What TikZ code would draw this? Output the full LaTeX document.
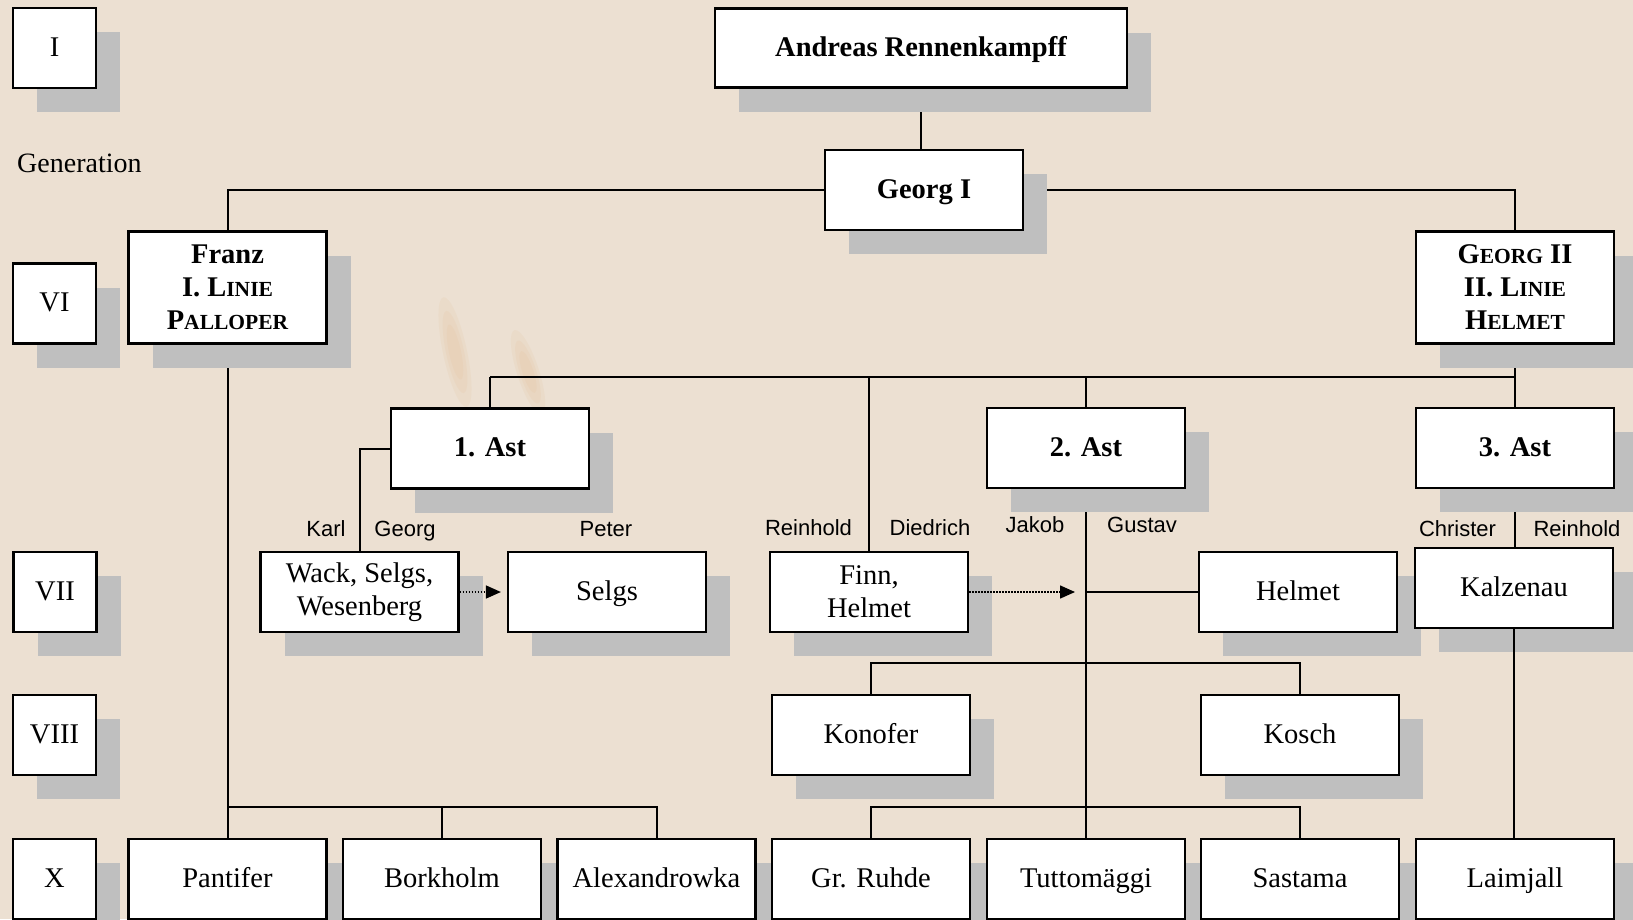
\documentclass[tikz,border=0pt]{standalone}
\usepackage{fontspec}
\setmainfont{Liberation Serif}
\setsansfont{Liberation Sans}
\usetikzlibrary{arrows.meta}
\usetikzlibrary{shadows}
\definecolor{paper}{RGB}{236,224,210}
\definecolor{stain}{RGB}{226,184,138}
\definecolor{shadowgrey}{RGB}{191,191,191}
\newcommand\boxfont{\fontsize{28.5}{33}\selectfont}
\newcommand\givenfont{\sffamily\fontsize{22}{26}\selectfont}
\newcommand\smallcap[1]{{\fontsize{21.5}{33}\selectfont #1}}
\pgfdeclarelayer{paperlayer}
\pgfdeclarelayer{wires}
\pgfsetlayers{paperlayer,wires,main}

\begin{document}
\begin{tikzpicture}[
    x=1pt, y=-1pt,
    frame/.style={
        draw=black,
        line width=2.2pt,
        fill=white,
        inner sep=0pt,
        minimum width=198pt,
        minimum height=80pt,
        align=center,
        font=\boxfont,
        drop shadow={shadow xshift=24pt, shadow yshift=-24pt,
                     fill=shadowgrey, opacity=1}
    },
    box/.style={frame, text height=17pt, text depth=1pt},
    gen/.style={box, minimum width=83pt},
    line/.style={frame, minimum height=112pt, font=\boxfont\bfseries},
    given/.style={anchor=base, inner sep=0pt, font=\givenfont},
    wire/.style={draw=black, line width=2pt},
    hint/.style={draw=black, line width=1.5pt, dash pattern=on 1.5pt off 1.5pt,
                 -{Triangle[length=15pt,width=13pt]}}
]

\useasboundingbox (0,0) rectangle (1633,919);
\begin{pgfonlayer}{paperlayer}
\fill [paper] (0,0) rectangle (1633,919);
\foreach \r in {1,0.75,0.5} {
    \fill [stain, opacity=0.12, rotate around={12:(455,352)}] (455,352) ellipse ({12*\r} and {56*\r});
    \fill [stain, opacity=0.12, rotate around={18:(528,372)}] (528,372) ellipse ({11*\r} and {44*\r});
}
\end{pgfonlayer}

% generations
\node [gen] (genI)    at (54.5,  48) {I};
\node [gen] (genVI)   at (54.5, 303.5) {VI};
\node [gen] (genVII)  at (55,   592) {VII};
\node [gen] (genVIII) at (54.5, 735) {VIII};
\node [gen] (genX)    at (54.5, 879) {X};
\node [anchor=base west, inner sep=0pt, font=\fontsize{28}{33}\selectfont]
    (generation) at (17,172) {Generation};

% stem
\node [box, minimum width=412pt, minimum height=79pt, font=\boxfont\bfseries]
    (andreas) at (921, 48) {Andreas Rennenkampff};
\node [box, font=\boxfont\bfseries] (georgI) at (924, 190) {Georg I};

\node [line] (franz)   at (227.5, 287.5) {Franz\\I. L\smallcap{INIE}\\P\smallcap{ALLOPER}};
\node [line] (georgII) at (1515,  287.5) {G\smallcap{EORG} II\\II. L\smallcap{INIE}\\H\smallcap{ELMET}};

\node [box, font=\boxfont\bfseries] (ast1) at (490,  448.5) {1. Ast};
\node [box, font=\boxfont\bfseries] (ast2) at (1086, 448) {2. Ast};
\node [box, font=\boxfont\bfseries] (ast3) at (1515, 448) {3. Ast};

% estates
\node [frame] (wack)     at (359.5, 592) {Wack, Selgs,\\Wesenberg};
\node [box]   (selgs)    at (607,   592) {Selgs};
\node [frame] (finn)     at (869,   592) {Finn,\\Helmet};
\node [box]   (helmet)   at (1298,  592) {Helmet};
\node [box]   (kalzenau) at (1514,  588) {Kalzenau};

\node [box] (konofer) at (871,  735) {Konofer};
\node [box] (kosch)   at (1300, 735) {Kosch};

\node [box] (pantifer)     at (227.5, 879) {Pantifer};
\node [box] (borkholm)     at (442,   879) {Borkholm};
\node [box] (alexandrowka) at (656.5, 879) {Alexandrowka};
\node [box] (ruhde)        at (871,   879) {Gr. Ruhde};
\node [box] (tutto)        at (1086,  879) {Tuttomäggi};
\node [box] (sastama)      at (1300,  879) {Sastama};
\node [box] (laimjall)     at (1515,  879) {Laimjall};

% first names
\node [given] (karl)      at (326,    536) {Karl};
\node [given] (georg)     at (405,    536) {Georg};
\node [given] (peter)     at (606,    536) {Peter};
\node [given] (reinholdA) at (808.5,  535) {Reinhold};
\node [given] (diedrich)  at (930,    535) {Diedrich};
\node [given] (jakob)     at (1035,   532) {Jakob};
\node [given] (gustav)    at (1142,   532) {Gustav};
\node [given] (christer)  at (1457.5, 536) {Christer};
\node [given] (reinholdB) at (1577,   536) {Reinhold};

\coordinate (branchbar) at (0, 376.5);
\coordinate (midbar)    at (0, 663);
\coordinate (lowbar)    at (0, 807);
\coordinate (junction)  at (ast2.south |- finn.east);

\begin{pgfonlayer}{wires}
\path [wire] (andreas.south) -- (andreas.south |- georgI.north);
\path [wire] (georgI.west) -| (franz.north);
\path [wire] (georgI.east) -| (georgII.north);

\path [wire] (georgII.south) -- (ast3.north);
\path [wire] (ast1.north |- branchbar) -- (georgII.south |- branchbar);
\path [wire] (ast1.north |- branchbar) -- (ast1.north);
\path [wire] (finn.north |- branchbar) -- (finn.north);
\path [wire] (ast2.north |- branchbar) -- (ast2.north);

\path [wire] (ast1.west) -| (wack.north);
\path [wire] (ast3.south) -- (ast3.south |- kalzenau.north);

\path [wire] (ast2.south) -- (tutto.north);
\path [wire] (junction) -- (helmet.west);
\path [wire] (konofer.north) |- (kosch.north |- midbar) -- (kosch.north);
\path [wire] (ruhde.north) |- (sastama.north |- lowbar) -- (sastama.north);

\path [wire] (franz.south) -- (pantifer.north);
\path [wire] (franz.south |- lowbar) -| (alexandrowka.north);
\path [wire] (borkholm.north |- lowbar) -- (borkholm.north);
\end{pgfonlayer}

\path [wire] (kalzenau.south) -- (kalzenau.south |- laimjall.north);

\draw [hint, shorten >=6pt]  (wack.east) -- (selgs.west);
\draw [hint, shorten >=11pt] (finn.east) -- (junction);

\end{tikzpicture}
\end{document}
